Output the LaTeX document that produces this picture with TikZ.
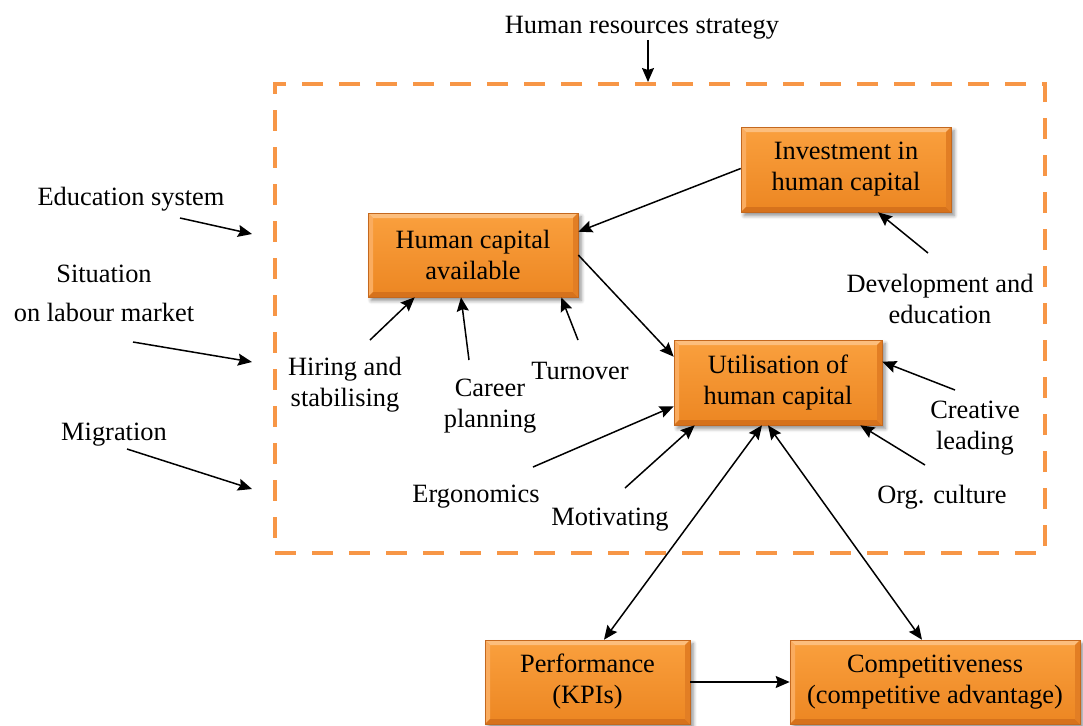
\documentclass[tikz,border=0pt]{standalone}
\usepackage{fontspec}
\setmainfont{Liberation Serif}
\usetikzlibrary{arrows.meta,shadows.blur}

\definecolor{hctop}{RGB}{250,160,62}
\definecolor{hcbottom}{RGB}{236,134,34}
\definecolor{hclight}{RGB}{252,190,125}
\definecolor{hcleft}{RGB}{250,172,95}
\definecolor{hcdark}{RGB}{214,114,28}
\definecolor{hcright}{RGB}{226,126,36}
\definecolor{hcedge}{RGB}{196,104,30}
\definecolor{framecol}{RGB}{247,150,70}

\tikzset{
  bevelbox/.style={rectangle, inner sep=0pt, align=center,
    draw=hcedge, line width=0.3pt, top color=hctop, bottom color=hcbottom,
    blur shadow={shadow xshift=1.6pt, shadow yshift=-1.8pt, shadow blur steps=6, shadow opacity=45},
    path picture={
      \def\bv{2.5pt}
      \fill[hclight] (path picture bounding box.north west) -- (path picture bounding box.north east)
        -- ([xshift=-\bv,yshift=-\bv]path picture bounding box.north east)
        -- ([xshift=\bv,yshift=-\bv]path picture bounding box.north west) -- cycle;
      \fill[hcleft] (path picture bounding box.north west) -- (path picture bounding box.south west)
        -- ([xshift=\bv,yshift=\bv]path picture bounding box.south west)
        -- ([xshift=\bv,yshift=-\bv]path picture bounding box.north west) -- cycle;
      \fill[hcdark] (path picture bounding box.south west) -- (path picture bounding box.south east)
        -- ([xshift=-\bv,yshift=\bv]path picture bounding box.south east)
        -- ([xshift=\bv,yshift=\bv]path picture bounding box.south west) -- cycle;
      \fill[hcright] (path picture bounding box.north east) -- (path picture bounding box.south east)
        -- ([xshift=-\bv,yshift=\bv]path picture bounding box.south east)
        -- ([xshift=-\bv,yshift=-\bv]path picture bounding box.north east) -- cycle;
    }},
  lbl/.style={inner sep=0pt, align=center},
  conn/.style={line width=0.75pt, -{Stealth[length=7pt,width=6pt,inset=1pt]}},
  biconn/.style={line width=0.75pt, {Stealth[length=7pt,width=6pt,inset=1pt]}-{Stealth[length=7pt,width=6pt,inset=1pt]}},
  hrframe/.style={draw=framecol, line width=2pt, dash pattern=on 10.5pt off 8pt,
    minimum width=385pt, minimum height=234.5pt, inner sep=0pt}
}

\begin{document}
\begin{tikzpicture}[x=0.5pt, y=-0.5pt, font=\fontsize{13.2}{15.5}\selectfont]
\useasboundingbox (0,0) rectangle (1083,725);

% dashed frame of the HR system
\node[hrframe] (frame) at (660,318.5) {};

% boxes
\node[bevelbox, minimum width=105pt, minimum height=42pt] (hca) at (473,255) {Human capital\\available};
\node[bevelbox, minimum width=105pt, minimum height=42.5pt] (inv) at (846,169.5) {Investment in\\human capital};
\node[bevelbox, minimum width=104pt, minimum height=42.5pt] (util) at (778,382.5) {Utilisation of\\human capital};
\node[bevelbox, minimum width=102.5pt, minimum height=42pt] (perf) at (587.5,682) {Performance\\(KPIs)};
\node[bevelbox, minimum width=145pt, minimum height=42pt] (comp) at (935,682) {Competitiveness\\(competitive advantage)};

% labels
\node[lbl] (hr) at (642,28) {Human resources strategy};
\node[lbl] (edu) at (131,199) {Education system};
\node[lbl] (sit) at (104,293) {Situation\\[4pt]on labour market};
\node[lbl] (mig) at (114,435) {Migration};
\node[lbl] (hire) at (345,385) {Hiring and\\stabilising};
\node[lbl] (career) at (490,406) {Career\\planning};
\node[lbl] (turn) at (580,371) {Turnover};
\node[lbl] (dev) at (940,299) {Development and\\education};
\node[lbl] (creat) at (975,428) {Creative\\leading};
\node[lbl] (org) at (942,497) {Org. culture};
\node[lbl] (ergo) at (476,497) {Ergonomics};
\node[lbl] (motiv) at (610,520) {Motivating};

% free ends of the arrows
\coordinate (edu-s) at (180,218);   \coordinate (edu-e) at (252,234);
\coordinate (sit-s) at (133,342);   \coordinate (sit-e) at (252,362);
\coordinate (mig-s) at (127,449);   \coordinate (mig-e) at (252,489);
\coordinate (hire-s) at (370,340);
\coordinate (career-s) at (469,360);
\coordinate (turn-s) at (578,340);
\coordinate (dev-s) at (928,253);
\coordinate (creat-s) at (955,390);
\coordinate (org-s) at (925,465);
\coordinate (ergo-s) at (533,467);
\coordinate (motiv-s) at (625,488);

% connectors
\draw[conn] ([xshift=3pt]hr.south) -- ([xshift=-6pt]frame.north);
\draw[conn] (edu-s) -- (edu-e);
\draw[conn] (sit-s) -- (sit-e);
\draw[conn] (mig-s) -- (mig-e);

\draw[conn] ([yshift=0.5pt]inv.west) -- ([yshift=-9.5pt]hca.north east);
\draw[conn] (hca.east) -- ([yshift=-8.5pt]util.north west);

\draw[conn] (hire-s) -- ([xshift=23.5pt]hca.south west);
\draw[conn] (career-s) -- ([xshift=-6pt]hca.south);
\draw[conn] (turn-s) -- ([xshift=-8.5pt]hca.south east);
\draw[conn] (dev-s) -- ([xshift=16pt]inv.south);

\draw[conn] (creat-s) -- ([yshift=-11pt]util.north east);
\draw[conn] (org-s) -- ([xshift=-11pt]util.south east);
\draw[conn] (ergo-s) -- ([yshift=9.5pt]util.south west);
\draw[conn] (motiv-s) -- ([xshift=10.5pt]util.south west);

\draw[biconn] ([xshift=-8pt]util.south) -- ([xshift=8.25pt]perf.north);
\draw[biconn] ([xshift=-5pt]util.south) -- ([xshift=-6.5pt]comp.north);
\draw[conn] (perf.east) -- (comp.west);
\end{tikzpicture}
\end{document}
